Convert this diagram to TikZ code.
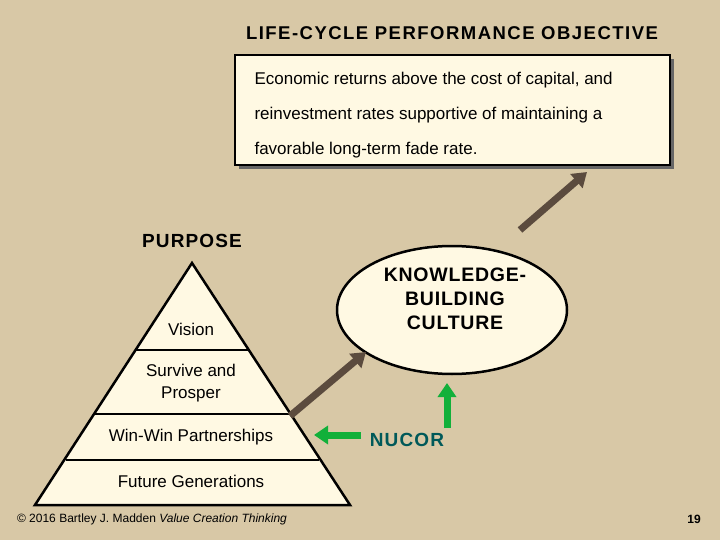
\documentclass[tikz,border=0pt]{standalone}
\usepackage{fontspec}
\setmainfont{Liberation Sans}
\usetikzlibrary{shapes.geometric,arrows.meta}
\definecolor{bg}{HTML}{D8C8A6}
\definecolor{cream}{HTML}{FFF9E3}
\definecolor{brn}{HTML}{5B4B3E}
\definecolor{grn}{HTML}{12B03A}
\tikzset{
 lbl/.style={font=\fontsize{17}{20}\selectfont, align=center},
 bld/.style={font=\bfseries\fontsize{19}{22}\selectfont\addfontfeature{LetterSpace=6}, align=center},
 bigarrow/.style={line width=7pt, -{Triangle[length=14pt,width=18pt]}},
}
\begin{document}
\begin{tikzpicture}[x=1pt,y=-1pt]
\fill[bg] (0,0) rectangle (720,540);
\useasboundingbox (0,0) rectangle (720,540);
\node[font=\bfseries\fontsize{18.5}{20}\selectfont\addfontfeature{LetterSpace=8}] (title) at (452,33) {LIFE-CYCLE PERFORMANCE OBJECTIVE};
\fill[black!60] (239,59) rectangle (674,169);
\node[draw, line width=2pt, fill=cream, minimum width=435pt, minimum height=110pt, inner sep=0pt] (box) at (452.5,110) {};
\node[lbl, anchor=west] (t1) at (251,80) {Economic returns above the cost of capital, and};
\node[lbl, anchor=west] (t2) at (251,115) {reinvestment rates supportive of maintaining a};
\node[lbl, anchor=west] (t3) at (251,150) {favorable long-term fade rate.};
\node[bld] (purpose) at (192,241) {PURPOSE};
\draw[line width=2.5pt, fill=cream] (192,263) -- (350,505) -- (35,505) -- cycle;
\draw[line width=1.5pt] (136,350) -- (248,350);
\draw[line width=1.5pt] (95,414) -- (290,414);
\draw[line width=1.5pt] (66,460) -- (319,460);
\node[lbl] (vision) at (191,329) {Vision};
\node[lbl, font=\fontsize{17}{22}\selectfont] (sp) at (191,383) {Survive and\\Prosper};
\node[lbl] (ww) at (191,437) {Win-Win Partnerships};
\node[lbl] (fg) at (191,481) {Future Generations};
\node[draw, line width=2.5pt, fill=cream, ellipse, minimum width=230pt, minimum height=128pt] (kbc) at (452,310) {};
\node[bld, font=\bfseries\fontsize{19.5}{24}\selectfont\addfontfeature{LetterSpace=4}] (kt) at (455,299) {KNOWLEDGE-\\BUILDING\\CULTURE};
\node[bld, text=teal!70!black] (nucor) at (407,440) {NUCOR};
\coordinate (a1s) at (290,416); \coordinate (a1e) at (366,352);
\coordinate (a2s) at (520,230); \coordinate (a2e) at (587,172);
\coordinate (g1s) at (361,435); \coordinate (g1e) at (314,435);
\coordinate (g2s) at (447,428); \coordinate (g2e) at (447,383);
\draw[bigarrow, brn] (a1s) -- (a1e);
\draw[bigarrow, brn] (a2s) -- (a2e);
\draw[bigarrow, grn] (g1s) -- (g1e);
\draw[bigarrow, grn] (g2s) -- (g2e);
\node[font=\fontsize{12}{14}\selectfont] (foot) at (152,519) {© 2016 Bartley J. Madden \textit{Value Creation Thinking}};
\node[font=\bfseries\fontsize{12}{14}\selectfont] (pg) at (694,519) {19};
\end{tikzpicture}
\end{document}
